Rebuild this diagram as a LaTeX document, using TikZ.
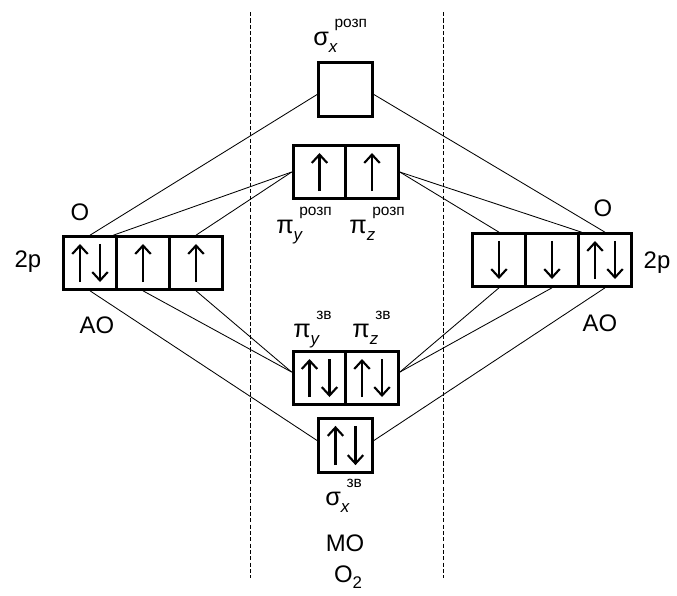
\documentclass[tikz,border=0pt]{standalone}
\usepackage{fontspec}
\setmainfont{Liberation Sans}
\usetikzlibrary{arrows.meta}

\tikzset{
  cell/.style={draw, line width=2pt, minimum size=1.32cm, inner sep=0pt},
  conn/.style={line width=0.6pt},
  spin/.style={line width=1.5pt, -{Straight Barb[length=6pt,width=11pt]}},
  sep/.style={dash pattern=on 3pt off 1.5pt, line width=0.6pt},
  lbl/.style={font=\fontsize{17}{20}\selectfont},
  mo/.style={font=\fontsize{18}{20}\selectfont, inner sep=0pt, anchor=base west},
}
\newcommand\orb[3]{#1\rlap{\raisebox{-5pt}{\fontsize{12}{12}\selectfont\itshape #3}}\hspace{4pt}\raisebox{12.5pt}{\fontsize{11}{11}\selectfont #2}}

\begin{document}
\begin{tikzpicture}[x=0.025cm, y=-0.025cm]
  \useasboundingbox (0,0) rectangle (677,595);
  % dashed separators
  \draw[sep] (250,12) -- (250,578);
  \draw[sep] (443,12) -- (443,578);

  % atomic orbitals
  \foreach \n/\x in {L1/90, L2/143, L3/196}
    \node[cell] (\n) at (\x,263) {};
  \foreach \n/\x in {R1/499, R2/552, R3/605}
    \node[cell] (\n) at (\x,260) {};

  % molecular orbitals
  \node[cell, minimum size=1.35cm] (Sa) at (345.5,89.5) {};
  \foreach \n/\x in {Pay/319.5, Paz/372}
    \node[cell] (\n) at (\x,172) {};
  \foreach \n/\x in {Pby/319.5, Pbz/372}
    \node[cell] (\n) at (\x,378) {};
  \node[cell, minimum size=1.35cm] (Sb) at (345.5,445.5) {};

  % electrons
  \foreach \c in {L2,L3,Pay,Paz}
    \draw[spin] ([yshift=0.22cm]\c.south) -- ([yshift=-0.22cm]\c.north);
  \foreach \c in {R1,R2}
    \draw[spin] ([yshift=-0.22cm]\c.north) -- ([yshift=0.22cm]\c.south);
  \foreach \c in {L1,R3,Pby,Pbz,Sb} {
    \draw[spin] ([xshift=-0.25cm,yshift=0.22cm]\c.south) -- ([xshift=-0.25cm,yshift=-0.22cm]\c.north);
    \draw[spin] ([xshift=0.25cm,yshift=-0.22cm]\c.north) -- ([xshift=0.25cm,yshift=0.22cm]\c.south);
  }

  % correlation lines
  \foreach \a/\b in {L1.north/Sa.190, L1.50/Pay.west, L3.north/Pay.west,
                     L1.south/Sb.170, L2.south/Pby.168, L3.south/Pby.168,
                     R3.north/Sa.-10, R3.130/Paz.east, R1.north/Paz.east,
                     R3.south/Sb.10, R2.south/Pbz.12, R1.south/Pbz.12}
    \draw[conn] (\a) -- (\b);

  % labels
  \node[lbl] (OL) at (80,212) {O};
  \node[lbl] (pL) at (28,262) {2p};
  \node[lbl] (AL) at (97,325) {AO};
  \node[lbl] (OR) at (603,208) {O};
  \node[lbl] (pR) at (657,263) {2p};
  \node[lbl] (AR) at (600,323) {AO};
  \node[mo] (lSa) at (313,45) {\orb{σ}{розп}{x}};
  \node[mo] (lPay) at (276,233) {\orb{π}{розп}{y}};
  \node[mo] (lPaz) at (349,233) {\orb{π}{розп}{z}};
  \node[mo] (lPby) at (293,337) {\orb{π}{зв}{y}};
  \node[mo] (lPbz) at (352,337) {\orb{π}{зв}{z}};
  \node[mo] (lSb) at (325,505) {\orb{σ}{зв}{x}};
  \node[lbl] (MO) at (345,543) {MO};
  \node[lbl] (O2) at (348,577) {O\raisebox{-0.45ex}{\fontsize{12}{12}\selectfont 2}};
\end{tikzpicture}
\end{document}
